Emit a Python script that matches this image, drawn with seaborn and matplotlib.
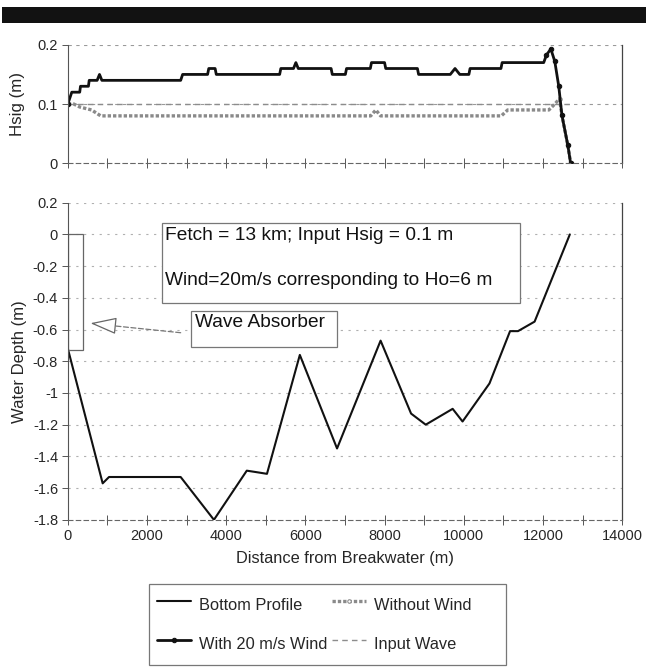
import matplotlib
matplotlib.use("Agg")
import matplotlib.pyplot as plt
from matplotlib.patches import Rectangle
from matplotlib.ticker import MultipleLocator
import numpy as np
import pandas as pd
import seaborn as sns

sns.set_theme(style="white")
plt.rcParams["font.family"] = ["Liberation Sans", "DejaVu Sans"]

# =====================================================
# DATA
# =====================================================

# bottom profile: distance (m) vs water depth (m)
profile_x = [0, 880, 1040, 2850, 3690, 4520, 4780, 5030, 5860, 6800, 7900,
             8670, 9040, 9720, 9970, 10650, 11170, 11370, 11790, 12680]
profile_y = [-0.72, -1.57, -1.53, -1.53, -1.80, -1.49, -1.50, -1.51, -0.76,
             -1.35, -0.67, -1.13, -1.20, -1.10, -1.18, -0.94, -0.61, -0.61,
             -0.55, 0.0]

# significant wave height with 20 m/s wind
wind_x = [0, 100, 300, 320, 520, 540, 740, 800, 860, 2850, 2900, 3530, 3560,
          3720, 3750, 5350, 5380, 5700, 5760, 5820, 6650, 6680, 7010, 7040,
          7640, 7670, 8000, 8030, 8830, 8860, 9660, 9780, 9900, 10130, 10160,
          10940, 10970, 12020, 12090, 12200, 12300, 12400, 12480, 12630, 12700]
wind_y = [0.10, 0.12, 0.12, 0.13, 0.13, 0.14, 0.14, 0.15, 0.14, 0.14, 0.15,
          0.15, 0.16, 0.16, 0.15, 0.15, 0.16, 0.16, 0.17, 0.16, 0.16, 0.15,
          0.15, 0.16, 0.16, 0.17, 0.17, 0.16, 0.16, 0.15, 0.15, 0.16, 0.15,
          0.15, 0.16, 0.16, 0.17, 0.17, 0.183, 0.193, 0.172, 0.13, 0.081,
          0.03, 0.0]

# significant wave height without wind
nowind_x = [0, 150, 300, 600, 830, 7650, 7780, 7900, 10950, 11110, 12150,
            12300, 12420, 12480, 12630, 12700]
nowind_y = [0.10, 0.10, 0.095, 0.09, 0.08, 0.08, 0.09, 0.08, 0.08, 0.09,
            0.09, 0.10, 0.109, 0.081, 0.03, 0.0]

# input wave height
input_x = [0, 12700]
input_y = [0.1, 0.1]

top_yticks = [0, 0.1, 0.2]
bottom_yticks = [0.2, 0, -0.2, -0.4, -0.6, -0.8, -1, -1.2, -1.4, -1.6, -1.8]
x_ticks = [0, 2000, 4000, 6000, 8000, 10000, 12000, 14000]


def fmt(v):
    return "0" if v == 0 else f"{v:g}"


# =====================================================
# FIGURE
# =====================================================

fig = plt.figure(figsize=(6.46, 6.69), dpi=100)
fig.patches.append(Rectangle((0.003, 0.966), 0.997, 0.0235,
                             transform=fig.transFigure,
                             facecolor="#121212", edgecolor="none"))

ax_top = fig.add_axes([0.105, 0.756, 0.858, 0.177])
ax_bot = fig.add_axes([0.105, 0.223, 0.858, 0.474])

grid_kw = dict(color="#9a9a9a", linestyle=(0, (3, 4)), linewidth=0.8, zorder=0)

# -------------------------------
# Top panel: Hsig
# -------------------------------

for v in top_yticks[1:]:
    ax_top.axhline(v, **grid_kw)

df_in = pd.DataFrame({"x": input_x, "y": input_y})
df_wo = pd.DataFrame({"x": nowind_x, "y": nowind_y})
df_w = pd.DataFrame({"x": wind_x, "y": wind_y})

n_drop = 7  # markers only visible on the steep drop near the shore

sns.lineplot(data=df_in, x="x", y="y", ax=ax_top, estimator=None, sort=False,
             color="#8c8c8c", linestyle=(0, (4, 3)), linewidth=1.0,
             label="Input Wave", legend=False)
sns.lineplot(data=df_wo, x="x", y="y", ax=ax_top, estimator=None, sort=False,
             color="#8a8a8a", linestyle=(0, (1, 0.6)), linewidth=2.4,
             marker="o", markersize=2.5, markerfacecolor="white",
             markeredgecolor="#8a8a8a",
             markevery=list(range(len(nowind_x) - 4, len(nowind_x))),
             label="Without Wind", legend=False)
sns.lineplot(data=df_w, x="x", y="y", ax=ax_top, estimator=None, sort=False,
             color="#111111", linewidth=2.0, marker="o", markersize=3.2,
             markeredgecolor="#111111",
             markevery=[0] + list(range(len(wind_x) - n_drop, len(wind_x))),
             label="With 20 m/s Wind", legend=False)

ax_top.set_xlim(0, 14000)
ax_top.set_ylim(0, 0.2)
ax_top.set_yticks(top_yticks)
ax_top.set_yticklabels([fmt(v) for v in top_yticks])
ax_top.xaxis.set_major_locator(MultipleLocator(1000))
ax_top.set_xticklabels([])
ax_top.set_xlabel("")
ax_top.set_ylabel("Hsig (m)", fontsize=12.2, labelpad=9)

# -------------------------------
# Bottom panel: water depth
# -------------------------------

for v in bottom_yticks[:-1]:
    ax_bot.axhline(v, color="#b0b0b0", linestyle=(0, (2, 5)), linewidth=0.8,
                   zorder=0)

df_p = pd.DataFrame({"x": profile_x, "y": profile_y})
sns.lineplot(data=df_p, x="x", y="y", ax=ax_bot, estimator=None, sort=False,
             color="#111111", linewidth=1.5, label="Bottom Profile",
             legend=False)

# wave absorber block
ax_bot.add_patch(Rectangle((0, -0.73), 380, 0.73, facecolor="none",
                           edgecolor="#666666", linewidth=0.9, zorder=2))

# text boxes
ax_bot.add_patch(Rectangle((2370, -0.43), 9040, 0.50, facecolor="white",
                           edgecolor="#777777", linewidth=0.9, zorder=3))
ax_bot.text(2450, -0.005, "Fetch = 13 km; Input Hsig = 0.1 m", fontsize=13.8,
            va="center", ha="left", zorder=4, color="#111111")
ax_bot.text(2450, -0.29, "Wind=20m/s corresponding to Ho=6 m", fontsize=13.8,
            va="center", ha="left", zorder=4, color="#111111")

ax_bot.add_patch(Rectangle((3110, -0.707), 3690, 0.221, facecolor="white",
                           edgecolor="#777777", linewidth=0.9, zorder=3))
ax_bot.text(3200, -0.555, "Wave Absorber", fontsize=13.8, va="center",
            ha="left", zorder=4, color="#111111")

# arrow: dashed shaft plus open triangular head
ax_bot.annotate("", xy=(1100, -0.575), xytext=(2850, -0.62),
                arrowprops=dict(arrowstyle="-", color="#777777",
                                linewidth=0.9, linestyle=(0, (4, 2)),
                                shrinkA=0, shrinkB=0),
                zorder=4)
ax_bot.annotate("", xy=(570, -0.56), xytext=(1150, -0.575),
                arrowprops=dict(arrowstyle="-|>,head_length=1.1,head_width=0.35",
                                mutation_scale=15, edgecolor="#666666",
                                facecolor="white", linewidth=0.9,
                                shrinkA=0, shrinkB=0),
                zorder=4)

ax_bot.set_xlim(0, 14000)
ax_bot.set_ylim(-1.8, 0.2)
ax_bot.set_yticks(bottom_yticks)
ax_bot.set_yticklabels([fmt(v) for v in bottom_yticks])
ax_bot.set_xticks(x_ticks)
ax_bot.set_xticklabels([str(v) for v in x_ticks])
ax_bot.xaxis.set_minor_locator(MultipleLocator(1000))
ax_bot.set_xlabel("Distance from Breakwater (m)", fontsize=11.8, labelpad=6)
ax_bot.set_ylabel("Water Depth (m)", fontsize=12, labelpad=4)

# -------------------------------
# Axis styling (old spreadsheet look)
# -------------------------------

for ax in (ax_top, ax_bot):
    ax.spines["top"].set_visible(False)
    ax.spines["left"].set_color("#555555")
    ax.spines["left"].set_linewidth(0.8)
    ax.spines["right"].set_color("#444444")
    ax.spines["right"].set_linewidth(0.9)
    ax.spines["bottom"].set_color("#666666")
    ax.spines["bottom"].set_linewidth(0.8)
    ax.spines["bottom"].set_linestyle((0, (4, 3)))
    ax.tick_params(axis="y", direction="out", length=4, width=0.7,
                   color="#555555", labelsize=10.5, pad=3, left=True)
    ax.tick_params(axis="x", which="both", direction="inout", length=7,
                   width=0.7, color="#555555", labelsize=10.5, pad=3,
                   bottom=True)
    ax.set_facecolor("white")

# -------------------------------
# Legend
# -------------------------------

h_profile = ax_bot.get_lines()[-1]
lines_top = ax_top.get_lines()
h_input = [l for l in lines_top if l.get_label() == "Input Wave"][0]
h_wo = [l for l in lines_top if l.get_label() == "Without Wind"][0]
h_w = [l for l in lines_top if l.get_label() == "With 20 m/s Wind"][0]

# trailing spaces keep the wide right margin of the original legend box
leg = fig.legend(handles=[h_profile, h_w, h_wo, h_input],
                 labels=["Bottom Profile", "With 20 m/s Wind",
                         "Without Wind      ", "Input Wave"],
                 ncol=2, loc="center", bbox_to_anchor=(0.507, 0.0665),
                 fontsize=11.8, frameon=True, fancybox=False, framealpha=1,
                 edgecolor="#777777", labelspacing=0.85, handleheight=2.0,
                 columnspacing=0.3, handlelength=2.1, handletextpad=0.45,
                 borderpad=0.5, borderaxespad=0)
leg.get_frame().set_linewidth(0.9)

fig.savefig("out.png", dpi=100, facecolor="white")
